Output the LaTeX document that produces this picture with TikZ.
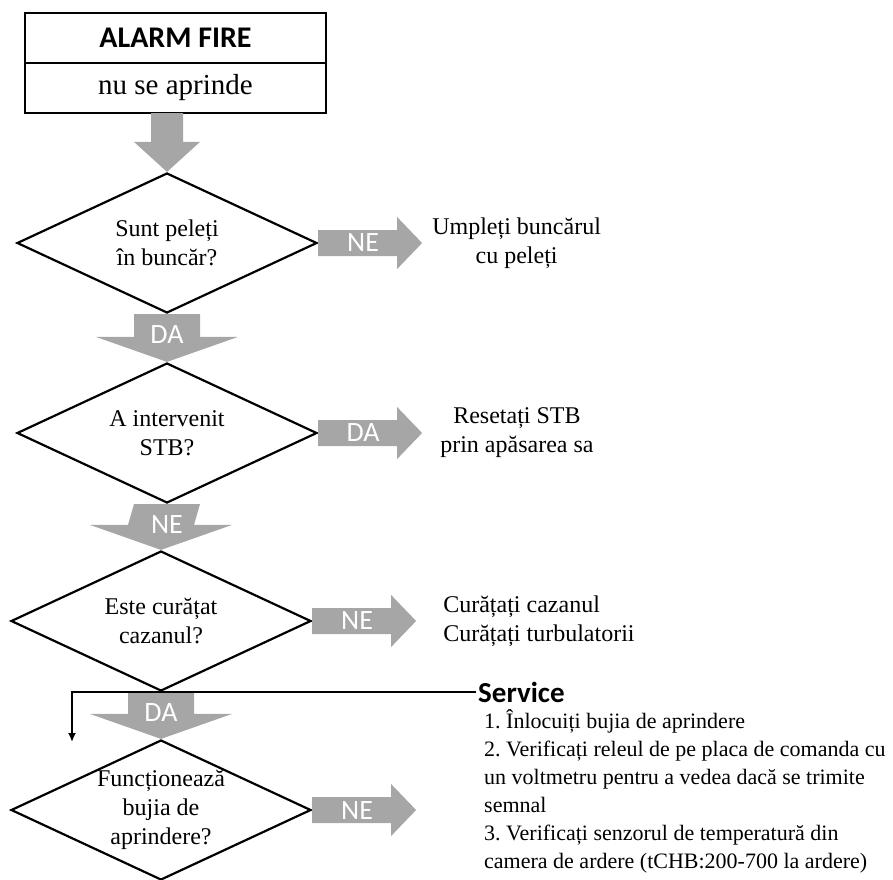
\documentclass[tikz,border=0pt]{standalone}
\usepackage{fontspec}
\setmainfont{Liberation Serif}
\newfontfamily\calibri{Carlito}
\usetikzlibrary{shapes.geometric,positioning,calc,arrows.meta}
\definecolor{flowgray}{RGB}{166,166,166}
\frenchspacing
\tikzset{
    hdrbox/.style={draw,line width=2.5pt,minimum width=301pt,minimum height=50pt,inner sep=0pt,outer sep=0pt},
    query/.style={diamond,draw,line width=2.2pt,shape aspect=2.14,minimum width=300pt,minimum height=140pt,
        inner sep=0pt,align=center,font=\fontsize{24}{29}\selectfont},
    act/.style={align=center,inner sep=0pt,font=\fontsize{24}{29}\selectfont},
    flowlbl/.style={text=white,inner sep=0pt,font=\calibri\fontsize{28}{30}\selectfont},
    svchead/.style={inner sep=2pt,font=\calibri\bfseries\fontsize{29}{30}\selectfont},
    svclist/.style={align=left,inner sep=0pt,font=\fontsize{22}{28}\selectfont},
}
\begin{document}
\begin{tikzpicture}[x=1pt,y=-1pt]
    \useasboundingbox (0,0) rectangle (893,879);
    %% Header
    \node[hdrbox,font=\calibri\bfseries\fontsize{30}{30}\selectfont] (title) at (175.5,38) {ALARM FIRE};
    \node[hdrbox,below=0pt of title,font=\fontsize{29}{30}\selectfont] (sub) {nu se aprinde};
    %% Questions
    \node[query] (q1) at (167,243) {Sunt peleți\\în buncăr?};
    \node[query] (q2) at (167,433) {A intervenit\\STB?};
    \node[query] (q3) at (161,621) {Este curățat\\cazanul?};
    \node[query] (q4) at (161,810) {Funcționează\\bujia de\\aprindere?};
    %% Flow down
    \coordinate (top) at (sub.south -| q1.north);
    \fill[flowgray] ($(top)+(-16,0)$) -- ($(top)+(16,0)$) -- ($(q1.north)+(16,-30)$)
        -- ($(q1.north)+(33,-30)$) -- (q1.north) -- ($(q1.north)+(-33,-30)$) -- ($(q1.north)+(-16,-30)$) -- cycle;
    \foreach \a/\b/\t in {q1/q2/DA,q2/q3/NE,q3/q4/DA} {
        \fill[flowgray] ($(\a.south)+(-33,0)$) -- ($(\a.south)+(33,0)$) -- ($(\b.north)+(33,-25)$)
            -- ($(\b.north)+(71,-25)$) -- (\b.north) -- ($(\b.north)+(-71,-25)$) -- ($(\b.north)+(-33,-25)$) -- cycle;
        \node[flowlbl] (down-\a) at ($(\a.south)+(0,20)$) {\t};
    }
    %% Flow right
    \foreach \q/\t/\n in {q1/NE/1,q2/DA/2,q3/NE/3,q4/NE/4} {
        \coordinate (tip\n) at ($(\q.east)+(104,0)$);
        \fill[flowgray] ($(\q.east)+(0,-13)$) -- ($(\q.east)+(79,-13)$) -- ($(\q.east)+(79,-26)$) -- (tip\n)
            -- ($(\q.east)+(79,26)$) -- ($(\q.east)+(79,13)$) -- ($(\q.east)+(0,13)$) -- cycle;
        \node[flowlbl] (side\n) at ($(\q.east)+(45,0)$) {\t};
    }
    %% Actions
    \node[act,right=10pt of tip1] (refill) {Umpleți buncărul\\cu peleți};
    \node[act,right=18pt of tip2] (reset) {Resetați STB\\prin apăsarea sa};
    \node[act,align=left,right=27pt of tip3] (clean) {Curățați cazanul\\Curățați turbulatorii};
    %% Service
    \node[svchead,anchor=west] (svc) at (476,692) {Service};
    \node[svclist,anchor=north west] (steps) at (484,709) {1. Înlocuiți bujia de aprindere\\2. Verificați releul de pe placa de comanda cu\\un voltmetru pentru a vedea dacă se trimite\\semnal\\3. Verificați senzorul de temperatură din\\camera de ardere (tCHB:200-700 la ardere)};
    \coordinate (drop) at (72,742);
    \draw[line width=2pt,-{Latex[length=9pt,width=8pt]}] (svc.west) -| (drop);
\end{tikzpicture}
\end{document}
